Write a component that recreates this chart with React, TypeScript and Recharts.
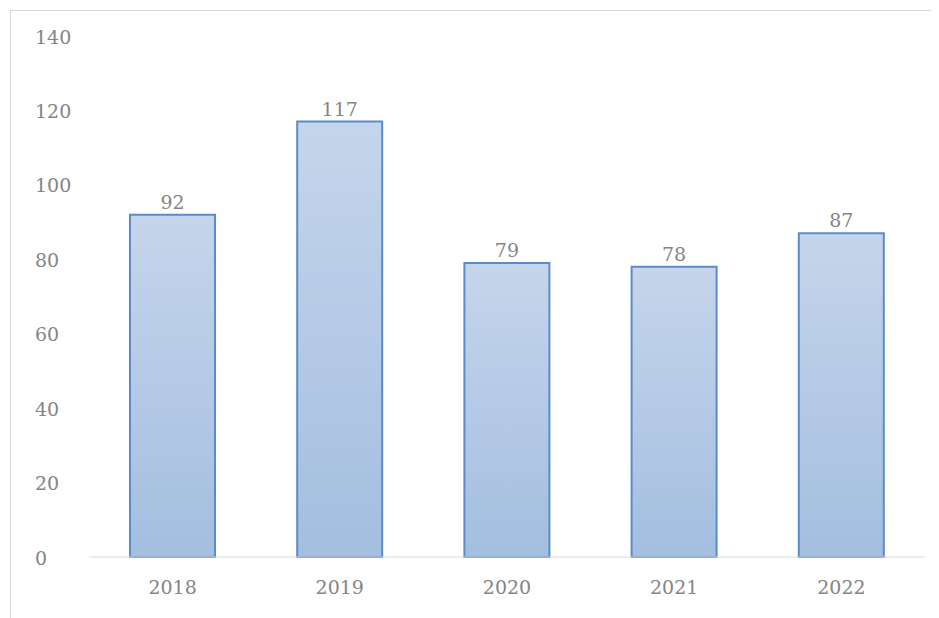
import { BarChart, Bar, XAxis, YAxis, LabelList } from "recharts";

const years = ["2018", "2019", "2020", "2021", "2022"];
const counts = [92, 117, 79, 78, 87];
const yTicks = [0, 20, 40, 60, 80, 100, 120, 140];

const data = years.map((year, i) => ({ year, count: counts[i] }));

const FONT = "'DejaVu Serif', serif";
const GREY = "#858585";

function YTick(props: any) {
  const { y, payload } = props;
  return (
    <text x={27} y={y} dy="0.4em" textAnchor="start" fill={GREY} fontSize={19} fontFamily={FONT}>
      {payload.value}
    </text>
  );
}

export default function App() {
  return (
    <div style={{ position: "relative", width: 931, height: 610 }}>
      <div
        style={{
          position: "absolute",
          left: 2,
          top: 2,
          right: 0,
          bottom: 0,
          borderTop: "1px solid #d9d9d9",
          borderLeft: "1px solid #d9d9d9",
        }}
      />
      <BarChart
        width={931}
        height={602}
        data={data}
        margin={{ top: 28, right: 14, bottom: 13, left: 0 }}
        style={{ position: "absolute", left: 0, top: 0 }}
      >
        <defs>
          <linearGradient id="barFill" x1="0" y1="0" x2="0" y2="1">
            <stop offset="0%" stopColor="#c5d5eb" />
            <stop offset="100%" stopColor="#a4bee0" />
          </linearGradient>
        </defs>
        <XAxis
          dataKey="year"
          height={40}
          axisLine={{ stroke: "#d9d9d9" }}
          tickLine={false}
          tickMargin={18}
          tick={{ fill: GREY, fontSize: 19, fontFamily: FONT }}
        />
        <YAxis
          width={81}
          domain={[0, 140]}
          ticks={yTicks}
          axisLine={false}
          tickLine={false}
          tick={<YTick />}
        />
        <Bar
          dataKey="count"
          barSize={85}
          fill="url(#barFill)"
          stroke="#5b8bc9"
          strokeWidth={2}
          isAnimationActive={false}
        >
          <LabelList
            dataKey="count"
            position="top"
            offset={6}
            fill={GREY}
            fontSize={19}
            fontFamily={FONT}
          />
        </Bar>
      </BarChart>
    </div>
  );
}
